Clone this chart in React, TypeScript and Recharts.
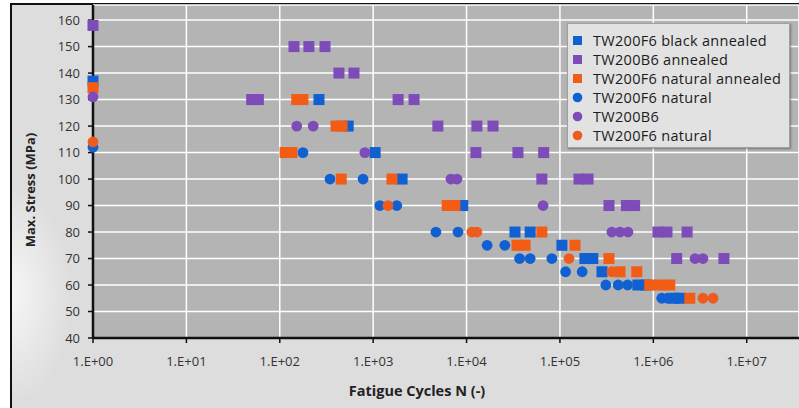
import React from 'react';
import { ScatterChart, Scatter, XAxis, YAxis, CartesianGrid, Legend, Label } from 'recharts';

// [cycles N, max stress MPa]
const blackAnnealed: [number, number][] = [
  [1, 137], [263, 130], [540, 120], [1050, 110], [2040, 100], [9100, 90],
  [33000, 80], [48000, 80], [105000, 75], [185000, 70], [225000, 70], [282000, 65],
  [684000, 60], [832000, 60], [1660000, 55], [1920000, 55],
];
const b6Annealed: [number, number][] = [
  [1, 158], [142, 150], [205, 150], [305, 150], [430, 140], [623, 140],
  [50, 130], [59, 130], [1850, 130], [2740, 130], [4930, 120], [12900, 120], [19200, 120],
  [12600, 110], [35500, 110], [67000, 110], [64000, 100], [160000, 100], [200000, 100],
  [335000, 90], [515000, 90], [630000, 90], [1120000, 80], [1400000, 80], [2300000, 80],
  [1780000, 70], [5700000, 70],
];
const naturalAnnealed: [number, number][] = [
  [1, 134.5], [152, 130], [177, 130], [400, 120], [465, 120], [114, 110], [135, 110],
  [455, 100], [1590, 100], [6200, 90], [7500, 90], [64000, 80], [34700, 75], [42400, 75],
  [145000, 75], [335000, 70], [440000, 65], [665000, 65], [915000, 60], [1180000, 60],
  [1500000, 60], [2460000, 55],
];
const natural: [number, number][] = [
  [1, 112], [177, 110], [345, 100], [780, 100], [1180, 90], [1790, 90], [4700, 80],
  [8100, 80], [16600, 75], [25700, 75], [37000, 70], [48000, 70], [82000, 70],
  [115000, 65], [173000, 65], [310000, 60], [420000, 60], [530000, 60],
  [1230000, 55], [1420000, 55],
];
const b6: [number, number][] = [
  [1, 131], [152, 120], [228, 120], [815, 110], [6800, 100], [7900, 100], [66000, 90],
  [360000, 80], [440000, 80], [535000, 80], [2800000, 70], [3400000, 70],
];
const naturalOrange: [number, number][] = [
  [1, 114], [1440, 90], [11400, 80], [12900, 80], [125000, 70], [360000, 65],
  [3400000, 55], [4360000, 55],
];

const xTicks = [1, 10, 100, 1000, 10000, 100000, 1000000, 10000000];
const yTicks = [40, 50, 60, 70, 80, 90, 100, 110, 120, 130, 140, 150, 160];

const seriesNames = [
  'TW200F6 black annealed',
  'TW200B6 annealed',
  'TW200F6 natural annealed',
  'TW200F6 natural',
  'TW200B6',
  'TW200F6 natural',
];
const seriesShapes = ['square', 'square', 'square', 'circle', 'circle', 'circle'];

const BLUE = '#1060d2';
const PURPLE = '#7d4cb9';
const ORANGE = '#f25c14';
const ORANGE2 = '#ef5b1c';
const seriesColors = [BLUE, PURPLE, ORANGE, BLUE, PURPLE, ORANGE2];

const toPts = (arr: [number, number][]) => arr.map(([n, s]) => ({ n, s }));

const FONT = '"Open Sans", "DejaVu Sans", sans-serif';

const SquareShape = (p: any) => (
  <rect x={p.cx - 5.5} y={p.cy - 5.5} width={11} height={11} fill={p.fill} />
);
const CircleShape = (p: any) => <circle cx={p.cx} cy={p.cy} r={5.4} fill={p.fill} />;

const orderOf = (e: any) => {
  for (let i = 0; i < seriesNames.length; i++) {
    if (seriesNames[i] === e.value && seriesShapes[i] === e.type && seriesColors[i] === e.color) return i;
  }
  return 99;
};

const renderLegend = (props: any) => {
  const payload = [...(props.payload || [])].sort((a: any, b: any) => orderOf(a) - orderOf(b));
  return (
    <div
      style={{
        background: '#e2e2e2',
        border: '1px solid #a0a0a0',
        boxShadow: '1px 1px 2px rgba(0,0,0,0.35)',
        padding: '7px 0 0 4px',
        width: 223,
        height: 125,
        boxSizing: 'border-box',
        fontFamily: FONT,
      }}
    >
      {payload.map((e: any, i: number) => (
        <div
          key={i}
          style={{ display: 'flex', alignItems: 'center', height: 19, fontSize: 14.5, letterSpacing: 0.3, color: '#1c1c1c', whiteSpace: 'nowrap' }}
        >
          <svg width={11} height={11} style={{ flex: 'none' }}>
            {e.type === 'square' ? (
              <rect x={1} y={1} width={9} height={9} fill={e.color} />
            ) : (
              <circle cx={5.5} cy={5.5} r={4.8} fill={e.color} />
            )}
          </svg>
          <span style={{ marginLeft: 10 }}>{e.value}</span>
        </div>
      ))}
    </div>
  );
};

const fmtX = (v: number) => `1.E+${String(Math.round(Math.log10(v))).padStart(2, '0')}`;

export default function App() {
  return (
    <div style={{ position: 'absolute', left: 0, top: 0, width: 799, height: 408, overflow: 'hidden', background: '#ffffff' }}>
      <div
        style={{
          position: 'absolute',
          left: 10,
          top: 3,
          width: 820,
          height: 430,
          borderLeft: '2px solid #111',
          borderTop: '2px solid #111',
          background: 'radial-gradient(ellipse 60px 110px at 0px 290px, #f6f6f6 0%, #dddddd 100%)',
          backgroundColor: '#dddddd',
        }}
      />
      <div style={{ position: 'absolute', left: 0, top: 0 }}>
        <ScatterChart width={799} height={408} margin={{ top: 5, right: 0, left: 0, bottom: 0 }}>
          <CartesianGrid fill="#b4b4b4" stroke="#ffffff" strokeWidth={1.5} />
          <XAxis
            type="number"
            dataKey="n"
            scale="log"
            domain={[1, 36300000]}
            ticks={xTicks}
            tickFormatter={fmtX}
            height={70}
            axisLine={{ stroke: '#111', strokeWidth: 2.5 }}
            tickLine={{ stroke: '#111', strokeWidth: 1.5 }}
            tickSize={5}
            tickMargin={14}
            tick={{ fill: '#333', fontSize: 13, fontFamily: FONT }}
          >
            <Label
              content={() => (
                <text x={417} y={396} textAnchor="middle" fontFamily={FONT} fontSize={14.5} fontWeight="bold" fill="#222">
                  Fatigue Cycles N (-)
                </text>
              )}
            />
          </XAxis>
          <YAxis
            type="number"
            dataKey="s"
            domain={[40, 165.7]}
            ticks={yTicks}
            width={93}
            axisLine={{ stroke: '#111', strokeWidth: 2.5 }}
            tickLine={{ stroke: '#111', strokeWidth: 1.5 }}
            tickSize={5}
            tickMargin={8}
            tick={{ fill: '#333', fontSize: 13, fontFamily: FONT }}
          >
            <Label
              content={() => (
                <text
                  x={35}
                  y={190}
                  textAnchor="middle"
                  fontFamily={FONT}
                  fontSize={13}
                  fontWeight="bold"
                  fill="#222"
                  transform="rotate(-90 35 190)"
                >
                  Max. Stress (MPa)
                </text>
              )}
            />
          </YAxis>
          <Legend
            layout="vertical"
            align="center"
            verticalAlign="middle"
            content={renderLegend}
            wrapperStyle={{ position: 'absolute', left: 567, top: 23, width: 223, height: 125 }}
          />
          <Scatter name={seriesNames[0]} data={toPts(blackAnnealed)} fill={seriesColors[0]} legendType="square" shape={SquareShape} isAnimationActive={false} />
          <Scatter name={seriesNames[1]} data={toPts(b6Annealed)} fill={seriesColors[1]} legendType="square" shape={SquareShape} isAnimationActive={false} />
          <Scatter name={seriesNames[2]} data={toPts(naturalAnnealed)} fill={seriesColors[2]} legendType="square" shape={SquareShape} isAnimationActive={false} />
          <Scatter name={seriesNames[3]} data={toPts(natural)} fill={seriesColors[3]} legendType="circle" shape={CircleShape} isAnimationActive={false} />
          <Scatter name={seriesNames[4]} data={toPts(b6)} fill={seriesColors[4]} legendType="circle" shape={CircleShape} isAnimationActive={false} />
          <Scatter name={seriesNames[5]} data={toPts(naturalOrange)} fill={seriesColors[5]} legendType="circle" shape={CircleShape} isAnimationActive={false} />
        </ScatterChart>
      </div>
    </div>
  );
}
